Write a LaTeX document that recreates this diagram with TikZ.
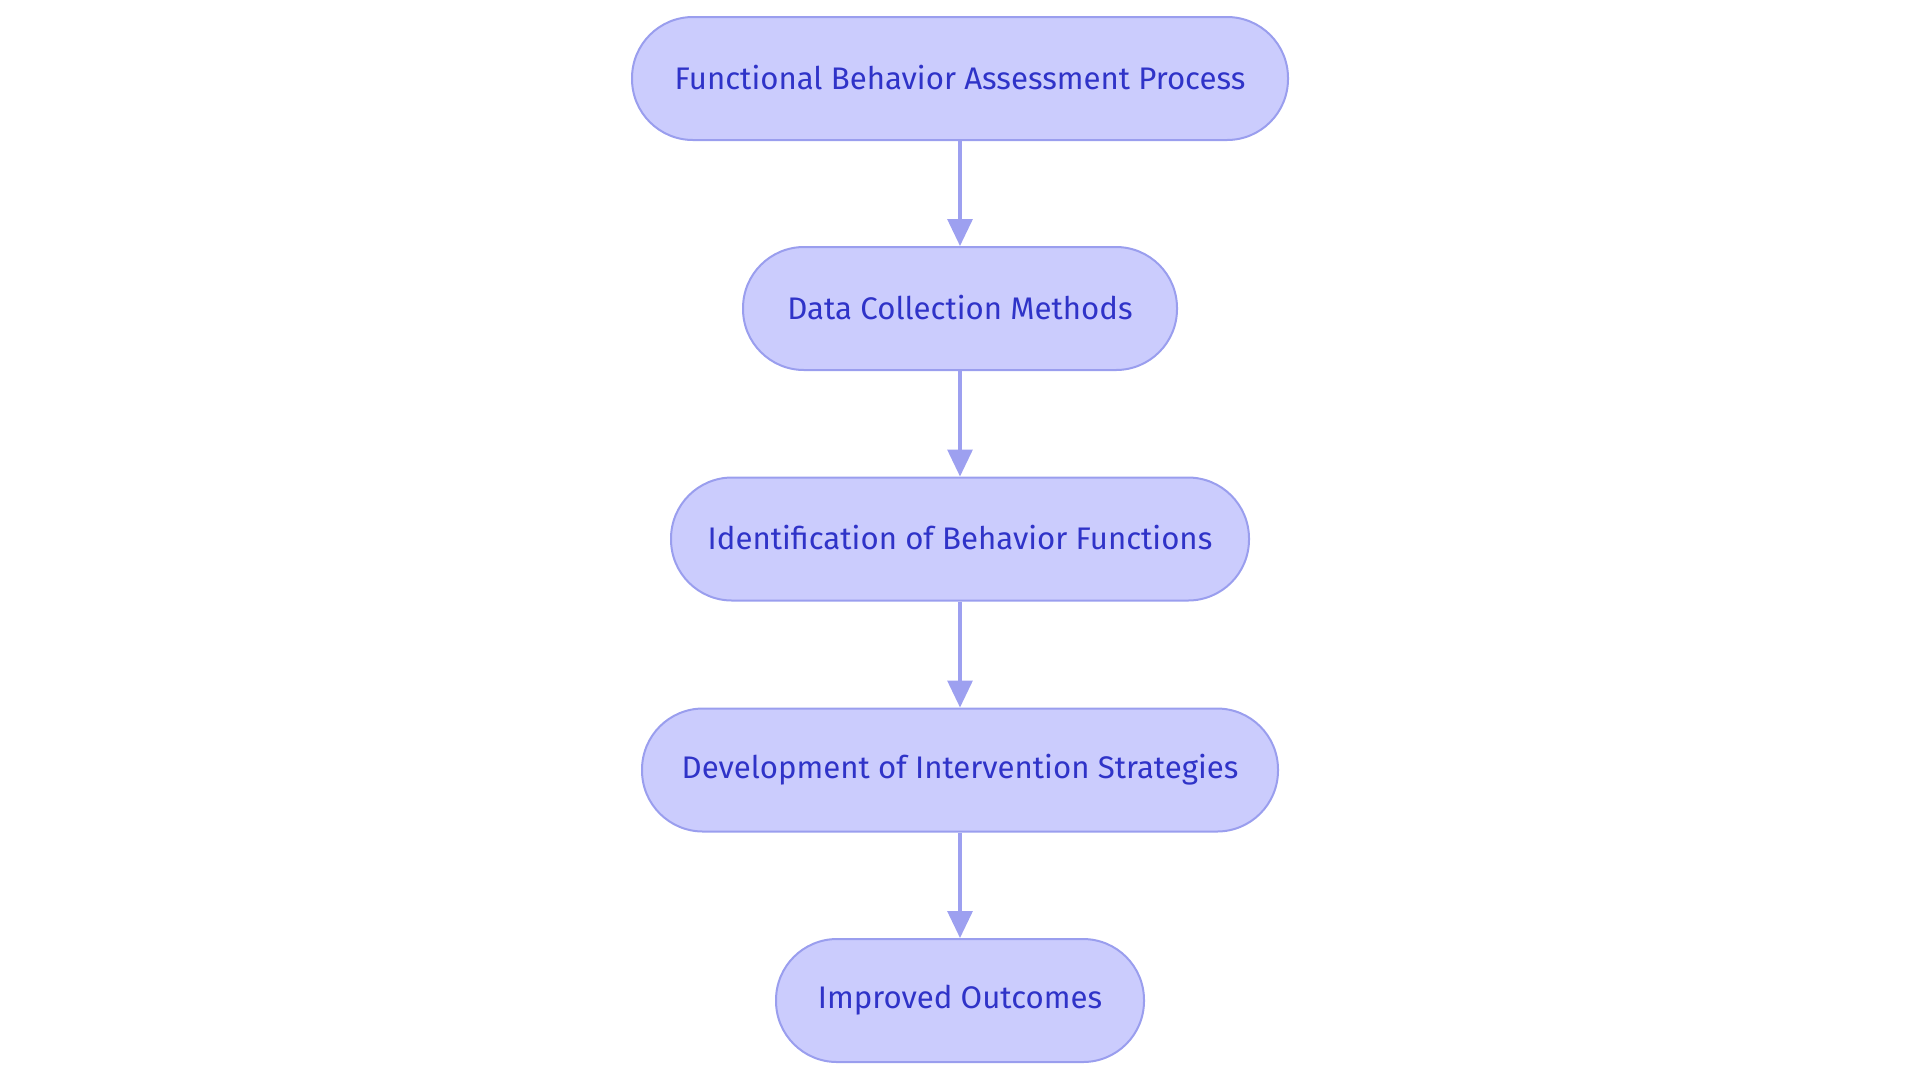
\documentclass[tikz,border=0pt]{standalone}
\usepackage{fontspec}
\setmainfont{Fira Sans}
\usetikzlibrary{arrows.meta}
\definecolor{nodefill}{HTML}{CBCCFD}
\definecolor{nodeedge}{HTML}{9A9EEE}
\definecolor{nodetext}{HTML}{2F33C8}
\definecolor{linkcol}{HTML}{9DA0F0}
\newcommand{\boxlabel}[1]{\raisebox{1.3pt}{#1}}
\begin{document}
\begin{tikzpicture}[x=0.5pt,y=-0.5pt,
  flowbox/.style={draw=nodeedge, fill=nodefill, line width=1pt, text=nodetext,
    rounded corners=30.5pt, minimum height=61.5pt, inner sep=0pt,
    font=\fontsize{15.6pt}{18pt}\selectfont},
  flowlink/.style={draw=linkcol, line width=1.6pt,
    -{Triangle[length=13.5pt,width=12.5pt,fill=linkcol]}, shorten >=0pt}]
\useasboundingbox (0,0) rectangle (1920,1083);
\node[flowbox, minimum width=328pt] (n1) at (960,78.5) {\boxlabel{Functional Behavior Assessment Process}};
\node[flowbox, minimum width=217pt] (n2) at (960,308.5) {\boxlabel{Data Collection Methods}};
\node[flowbox, minimum width=289pt] (n3) at (960,539) {\boxlabel{Identification of Behavior Functions}};
\node[flowbox, minimum width=318pt] (n4) at (960,770) {\boxlabel{Development of Intervention Strategies}};
\node[flowbox, minimum width=184pt] (n5) at (960,1000.5) {\boxlabel{Improved Outcomes}};
\draw[flowlink] (n1) -- (n2);
\draw[flowlink] (n2) -- (n3);
\draw[flowlink] (n3) -- (n4);
\draw[flowlink] (n4) -- (n5);
\end{tikzpicture}
\end{document}
